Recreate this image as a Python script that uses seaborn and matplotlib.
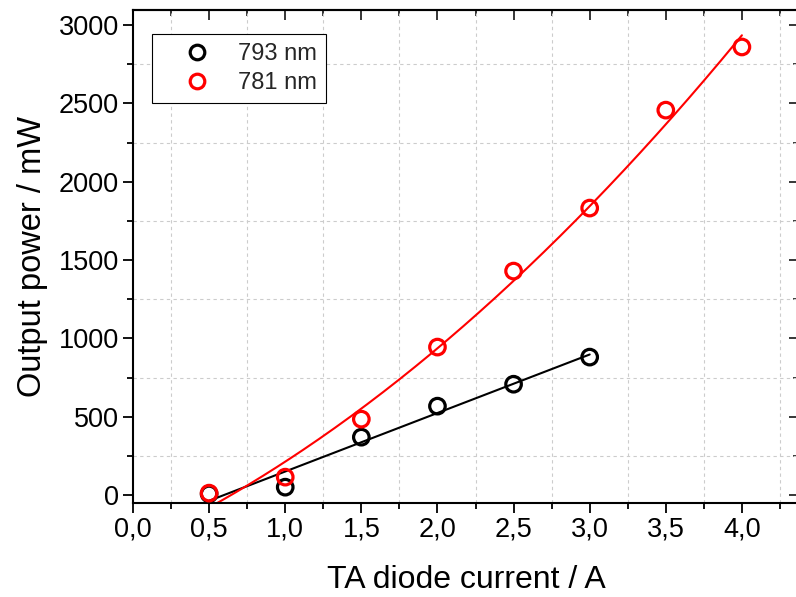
import matplotlib
matplotlib.use("Agg")
import matplotlib.pyplot as plt
import numpy as np
import seaborn as sns
from matplotlib.lines import Line2D
from matplotlib.ticker import FuncFormatter, MultipleLocator

current_793 = [0.5, 1.0, 1.5, 2.0, 2.5, 3.0]
power_793 = [8, 51, 370, 568, 708, 881]

current_781 = [0.5, 1.0, 1.5, 2.0, 2.5, 3.0, 3.5, 4.0]
power_781 = [13, 115, 485, 945, 1430, 1832, 2457, 2860]

series_labels = ["793 nm", "781 nm"]
series_colors = ["black", "red"]

sns.set_theme(style="ticks")
plt.rcParams["font.family"] = ["Liberation Sans", "DejaVu Sans"]

fig = plt.figure(figsize=(7.96, 5.97), dpi=100)
ax = fig.add_axes([133 / 796, 94 / 597, 666 / 796, 493 / 597])

# fit lines: linear for 793 nm, quadratic for 781 nm
x793 = np.array(current_793)
x781 = np.array(current_781)
lin = np.polyfit(x793, power_793, 1)
quad = np.polyfit(x781, power_781, 2)
xs793 = np.linspace(x793.min(), x793.max(), 50)
xs781 = np.linspace(x781.min(), x781.max(), 200)
sns.lineplot(x=xs793, y=np.polyval(lin, xs793), color="black", lw=1.5, ax=ax)
sns.lineplot(x=xs781, y=np.polyval(quad, xs781), color="red", lw=1.5, ax=ax)

for xs, ys, c in [(current_793, power_793, series_colors[0]),
                  (current_781, power_781, series_colors[1])]:
    sns.scatterplot(x=xs, y=ys, ax=ax, s=125, facecolors="none",
                    edgecolors=c, linewidth=2.3, zorder=3)

ax.set_xlim(0, 4.375)
ax.set_ylim(-50, 3096)

ax.xaxis.set_major_locator(MultipleLocator(0.5))
ax.xaxis.set_minor_locator(MultipleLocator(0.25))
ax.yaxis.set_major_locator(MultipleLocator(500))
ax.yaxis.set_minor_locator(MultipleLocator(250))
ax.xaxis.set_major_formatter(FuncFormatter(lambda v, p: f"{v:.1f}".replace(".", ",")))
ax.yaxis.set_major_formatter(FuncFormatter(lambda v, p: f"{v:.0f}"))

ax.tick_params(which="major", direction="out", length=7, width=1.3,
               labelsize=19.5, color="black", labelcolor="black", pad=3)
ax.tick_params(which="minor", direction="out", length=4.5, width=1.3, color="black")

for sp in ax.spines.values():
    sp.set_visible(True)
    sp.set_linewidth(1.5)
    sp.set_color("black")

# mirrored inward ticks on top and right
top = ax.secondary_xaxis("top")
top.xaxis.set_major_locator(MultipleLocator(0.5))
top.xaxis.set_minor_locator(MultipleLocator(0.25))
top.tick_params(which="major", direction="in", length=7, width=1.3, labeltop=False)
top.tick_params(which="minor", direction="in", length=4, width=1.3)
top.spines["top"].set_linewidth(1.5)
right = ax.secondary_yaxis("right")
right.yaxis.set_major_locator(MultipleLocator(500))
right.yaxis.set_minor_locator(MultipleLocator(250))
right.tick_params(which="major", direction="in", length=7, width=1.3, labelright=False)
right.tick_params(which="minor", direction="in", length=4, width=1.3)

ax.grid(False, which="major")
ax.grid(True, which="minor", linestyle=(0, (3, 3)), color="#cccccc", linewidth=0.8)
ax.set_axisbelow(True)

ax.set_xlabel("TA diode current / A", fontsize=23, color="black", labelpad=16)
ax.set_ylabel("Output power / mW", fontsize=23.5, color="black", labelpad=8)

handles = [Line2D([], [], marker="o", ls="", ms=10.5, mfc="none", mec=c, mew=2.3)
           for c in series_colors]
leg = ax.legend(handles, series_labels, loc="upper left",
                bbox_to_anchor=(0.029, 0.951), fontsize=17, frameon=True,
                fancybox=False, edgecolor="black", framealpha=1,
                handletextpad=0.25, borderpad=0.38, labelspacing=0.3,
                handlelength=3.0, borderaxespad=0)
leg.get_frame().set_linewidth(0.8)

fig.savefig("out.png", dpi=100)
